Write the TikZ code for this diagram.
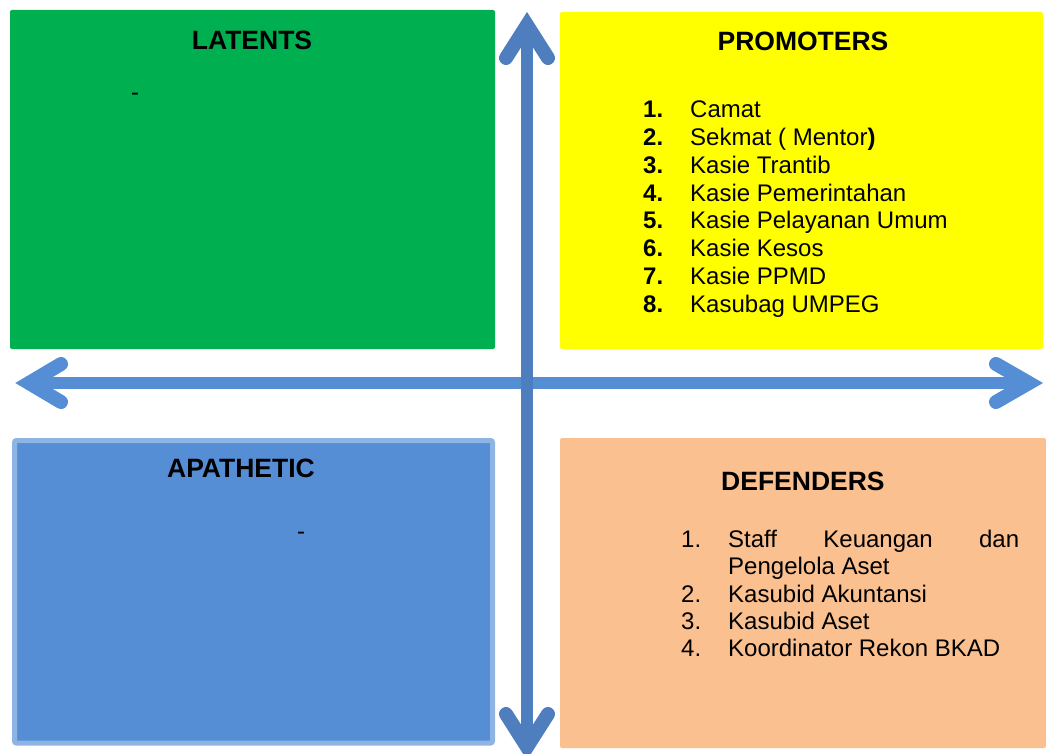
\documentclass[tikz,border=0pt]{standalone}
\usepackage{fontspec}
\setmainfont{Liberation Sans}
\definecolor{latentgreen}{HTML}{00B050}
\definecolor{promoyellow}{HTML}{FFFF00}
\definecolor{defendorange}{HTML}{FAC090}
\definecolor{apathyfill}{HTML}{558ED5}
\definecolor{apathyedge}{HTML}{8EB4E3}
\definecolor{axisvert}{HTML}{4F7EBE}
\definecolor{axishorz}{HTML}{558ED5}
\begin{document}
\begin{tikzpicture}[x=1pt,y=-1pt,
  quadrant/.style={rounded corners=2pt},
  heading/.style={font=\fontsize{26.5}{30}\selectfont\bfseries, anchor=base, inner sep=0},
  itemtext/.style={font=\fontsize{24}{28}\selectfont, anchor=base west, inner sep=0},
  itemnum/.style={font=\fontsize{24}{28}\selectfont\bfseries, anchor=base west, inner sep=0},
  plainnum/.style={font=\fontsize{24}{28}\selectfont, anchor=base west, inner sep=0},
  shaft/.style={line width=12pt},
  chevron/.style={line width=14pt, line cap=round, line join=miter}]
\useasboundingbox (0,0) rectangle (1046,754);
\clip (0,0) rectangle (1046,754);

% quadrant boxes
\fill[quadrant, latentgreen] (10,10) rectangle (495,349);
\fill[quadrant, promoyellow] (560,12) rectangle (1043,349);
\filldraw[quadrant, fill=apathyfill, draw=apathyedge, line width=5pt] (14.5,440.5) rectangle (492.5,743);
\fill[quadrant, defendorange] (560,438) rectangle (1046,748);

% horizontal axis
\coordinate (hl) at (29,383);
\coordinate (hr) at (1029,383);
\draw[shaft, axishorz] (hl) -- (hr);
\draw[chevron, axishorz] (61,364) -- (hl) -- (61,402);
\draw[chevron, axishorz] (996,364) -- (hr) -- (996,402);

% vertical axis
\coordinate (vt) at (527,25);
\coordinate (vb) at (527,747);
\draw[shaft, axisvert] (vt) -- (vb);
\draw[chevron, axisvert] (506,58) -- (vt) -- (548,58);
\draw[chevron, axisvert] (506,714) -- (vb) -- (548,714);

% headings
\node[heading] (latents) at (252,50) {LATENTS};
\node[heading] (promoters) at (803,51) {PROMOTERS};
\node[heading] (apathetic) at (241,477) {APATHETIC};
\node[heading, anchor=base west] (defenders) at (721,490) {DEFENDERS};

% placeholder dashes
\node[itemtext, anchor=base] (latdash) at (135,101) {-};
\node[itemtext, anchor=base] (apadash) at (301,539) {-};

% promoters list
\foreach \i/\t [count=\k from 0] in {1/Camat, 2/{Sekmat ( Mentor\textbf{)}}, 3/Kasie Trantib,
    4/Kasie Pemerintahan, 5/Kasie Pelayanan Umum, 6/Kasie Kesos, 7/Kasie PPMD, 8/Kasubag UMPEG} {
  \node[itemnum] (pn\i) at (643,117.5+27.86*\k) {\i.};
  \node[itemtext] (pt\i) at (690,117.5+27.86*\k) {\t};
}

% defenders list
\node[plainnum] (dn1) at (681,547.5) {1.};
\node[itemtext] (dt1a) at (728,547.5) {\makebox[291pt][s]{Staff \hfill Keuangan \hfill dan}};
\node[itemtext] (dt1b) at (728,574.5) {Pengelola Aset};
\node[plainnum] (dn2) at (681,602.5) {2.};
\node[itemtext] (dt2) at (728,602.5) {Kasubid Akuntansi};
\node[plainnum] (dn3) at (681,629.5) {3.};
\node[itemtext] (dt3) at (728,629.5) {Kasubid Aset};
\node[plainnum] (dn4) at (681,656.5) {4.};
\node[itemtext] (dt4) at (728,656.5) {Koordinator Rekon BKAD};
\end{tikzpicture}
\end{document}
